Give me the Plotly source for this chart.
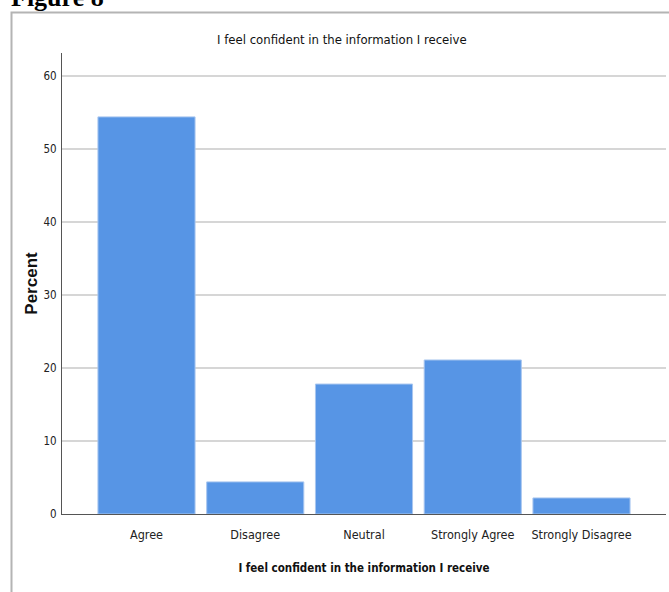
import plotly.graph_objects as go

categories = ["Agree", "Disagree", "Neutral", "Strongly Agree", "Strongly Disagree"]
percent = [54.4, 4.4, 17.8, 21.1, 2.2]
y_ticks = [0, 10, 20, 30, 40, 50, 60]
title_text = "I feel confident in the information I receive"

W, H = 669, 592
L, R, T, B = 62, 3, 53, 78
pw, ph = W - L - R, H - T - B

def px_x(px):
    return (px - L) / pw

def px_y(py):
    return (H - B - py) / ph

narrow = "DejaVu Sans Condensed, Liberation Sans Narrow, sans-serif"

fig = go.Figure()
fig.add_trace(go.Bar(
    x=categories, y=percent,
    marker=dict(color="#5795e5", line=dict(color="#a8c6ef", width=1)),
    width=0.893,
    hoverinfo="x+y",
))

fig.update_layout(
    width=W, height=H,
    margin=dict(l=L, r=R, t=T, b=B),
    paper_bgcolor="white", plot_bgcolor="white",
    showlegend=False,
    xaxis=dict(
        range=[-0.777, 4.777],
        showline=True, linecolor="#555555", linewidth=1,
        showgrid=False, ticks="", ticklabelstandoff=9,
        tickfont=dict(family=narrow, size=12.5, color="#222222"),
        title=dict(text="<b>" + title_text + "</b>", font=dict(family=narrow, size=11.5, color="#111111"), standoff=22),
        fixedrange=True,
    ),
    yaxis=dict(
        range=[0, 63.15],
        tickvals=y_ticks,
        showline=True, linecolor="#555555", linewidth=1,
        showgrid=True, gridcolor="#d6d6d6", gridwidth=1.5,
        ticks="", ticklabelstandoff=2,
        tickfont=dict(family=narrow, size=11.5, color="#222222"),
        zeroline=False,
        title=dict(text="<b>Percent</b>", font=dict(family="Liberation Sans, Arial, sans-serif", size=17, color="#111111"), standoff=1),
        fixedrange=True,
    ),
    annotations=[
        dict(text=title_text, xref="paper", yref="paper", x=px_x(342), y=px_y(39),
             xanchor="center", yanchor="middle", showarrow=False,
             font=dict(family=narrow, size=13, color="#111111")),
        dict(text="<b>Figure 8</b>", xref="paper", yref="paper", x=px_x(9), y=px_y(14),
             xanchor="left", yanchor="bottom", showarrow=False,
             font=dict(family="Liberation Serif, serif", size=26, color="#000000")),
    ],
    shapes=[
        dict(type="rect", xref="paper", yref="paper",
             x0=px_x(11.5), x1=px_x(700), y0=px_y(12.5), y1=px_y(620),
             line=dict(color="#b4b4b4", width=2), fillcolor="rgba(0,0,0,0)", layer="below"),
    ],
)

fig.write_html("out.html", config={"displayModeBar": False},
               post_script="document.body.style.margin='0';document.body.style.overflow='hidden';")
